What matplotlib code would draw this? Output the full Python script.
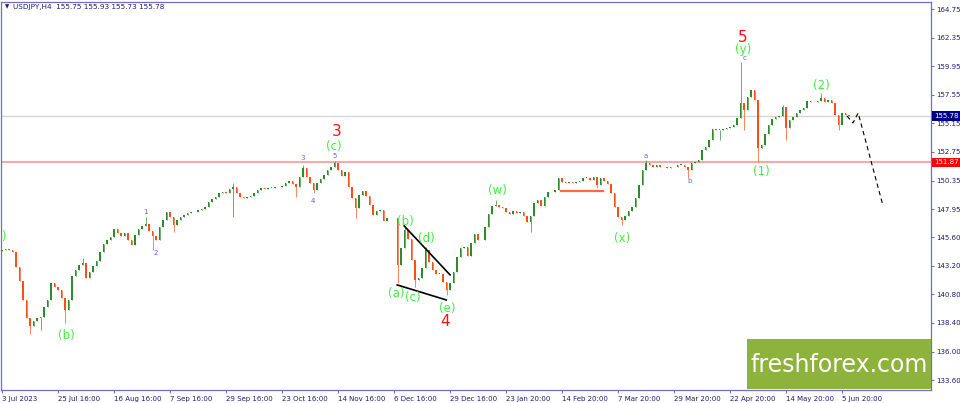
import matplotlib
matplotlib.use("Agg")
import matplotlib.pyplot as plt
from matplotlib.transforms import blended_transform_factory

# daily closes (one value per trading day, 3 Jul 2023 -> 6 Jun 2024)
closes = [
    144.53, 144.61, 144.53, 144.36, 143.10, 141.92, 140.33, 138.82, 138.15, 138.57,
    138.82, 138.90, 139.74, 140.33, 141.76, 141.42, 141.17, 140.50, 139.49, 140.33,
    142.34, 142.85, 143.27, 143.43, 142.17, 142.68, 143.18, 143.60, 144.36, 145.03,
    145.36, 145.62, 146.29, 145.95, 145.70, 145.95, 145.36, 144.94, 145.78, 146.29,
    146.54, 146.71, 146.12, 145.70, 145.36, 146.46, 147.04, 147.71, 147.29, 146.62,
    147.04, 147.29, 147.46, 147.63, 147.71, 147.71, 147.88, 147.96, 148.13, 148.55,
    148.81, 148.97, 149.31, 149.39, 149.31, 149.64, 149.81, 149.31, 148.97, 148.89,
    148.97, 149.06, 149.31, 149.56, 149.73, 149.64, 149.73, 149.73, 149.81, 149.81,
    149.90, 150.15, 150.32, 150.06, 149.81, 150.65, 151.41, 150.65, 150.15, 149.56,
    150.15, 150.48, 150.82, 151.24, 151.49, 151.82, 151.24, 150.73, 151.07, 149.81,
    148.89, 148.05, 149.14, 149.48, 149.06, 148.30, 147.46, 147.80, 147.88, 146.96,
    147.21, 147.21, 147.21, 143.27, 144.69, 146.20, 145.45, 143.69, 142.01, 142.18,
    143.02, 144.53, 143.52, 142.85, 142.51, 142.51, 141.84, 141.17, 141.76, 142.68,
    143.94, 144.69, 144.78, 144.02, 145.11, 145.87, 145.36, 145.36, 146.46, 147.55,
    148.22, 148.30, 148.13, 148.05, 147.71, 147.55, 147.80, 147.63, 147.71, 147.38,
    146.88, 147.38, 148.47, 148.72, 148.22, 148.97, 149.39, 149.39, 149.56, 150.57,
    150.23, 150.15, 150.23, 150.15, 150.23, 150.32, 150.57, 150.57, 150.40, 150.65,
    149.98, 150.57, 150.32, 150.06, 149.31, 148.13, 147.29, 147.04, 147.38, 147.80,
    148.13, 148.89, 149.98, 151.24, 151.82, 151.66, 151.49, 151.66, 151.49, 151.49,
    151.41, 151.49, 151.49, 151.66, 151.66, 151.49, 151.24, 151.82, 151.91, 152.08,
    152.92, 153.17, 153.76, 154.68, 154.60, 154.60, 154.68, 154.76, 154.85, 155.01,
    155.60, 156.86, 156.27, 157.36, 157.95, 157.11, 153.08, 153.34, 154.26, 155.01,
    155.52, 155.69, 155.77, 156.53, 154.76, 155.43, 155.69, 156.02, 156.27, 156.44,
    157.03, 156.94, 156.94, 157.03, 157.28, 156.94, 157.11, 156.86, 155.85, 155.01,
    156.02, 155.85, 155.78,
]
first_open = 144.45

# wick extremes that stick out of the bodies
spike_high = {23: 143.85, 41: 147.29, 66: 150.15, 86: 151.66, 95: 151.99, 115: 146.54,
              121: 144.78, 141: 148.72, 184: 152.08, 211: 160.30, 223: 156.70, 234: 157.70}
spike_low = {8: 137.48, 11: 137.81, 18: 138.40, 43: 144.53, 49: 146.04, 66: 147.29,
             84: 148.97, 89: 149.31, 101: 147.21, 113: 141.76, 118: 141.42, 127: 140.75,
             151: 146.04, 170: 149.70, 177: 146.62, 196: 150.57, 205: 153.76, 212: 154.60,
             216: 151.91, 224: 153.76, 239: 154.60}

date_ticks = [0, 16, 32, 48, 64, 80, 96, 112, 128, 144, 160, 176, 192, 208, 224, 240]
date_labels = ["3 Jul 2023", "25 Jul 16:00", "16 Aug 16:00", "7 Sep 16:00", "29 Sep 16:00",
               "23 Oct 16:00", "14 Nov 16:00", "6 Dec 16:00", "29 Dec 16:00", "23 Jan 20:00",
               "14 Feb 20:00", "7 Mar 20:00", "29 Mar 20:00", "22 Apr 20:00", "14 May 20:00",
               "5 Jun 20:00"]
price_ticks = [133.60, 136.00, 138.40, 140.80, 143.20, 145.60, 147.95, 150.35,
               152.75, 155.15, 157.55, 159.95, 162.35, 164.75]

level_red = 151.87
last_price = 155.78

# contracting triangle of wave 4
tri_low_x, tri_low_y = [112.9, 126.9], [141.59, 140.33]
tri_up_x, tri_up_y = [114.9, 128.0], [146.54, 142.43]
# forecast path
proj_x = [241.4, 243.1, 244.6, 251.7]
proj_y = [155.77, 155.19, 156.02, 148.22]
# small support segment under the Feb range
seg_x, seg_y = [159.7, 171.7], [149.48, 149.48]

# wave labels: (text, day, price, kind)
waves = [
    ("(a)", 1.3, 145.62, "g_r"), ("(b)", 18.3, 137.31, "g"),
    ("1", 41.1, 147.71, "b"), ("2", 44.0, 144.27, "b"),
    ("3", 86.0, 152.25, "b"), ("4", 88.9, 148.64, "b"), ("5", 95.1, 152.41, "b"),
    ("(c)", 94.9, 153.25, "g"), ("3", 95.7, 154.51, "r"),
    ("(b)", 115.1, 146.88, "g"), ("(d)", 121.1, 145.45, "g"), ("(a)", 112.6, 140.83, "g"),
    ("(c)", 117.4, 140.50, "g"), ("(e)", 127.1, 139.62, "g"), ("4", 126.6, 138.55, "r"),
    ("(w)", 141.4, 149.48, "g"), ("(x)", 177.1, 145.45, "g"),
    ("a", 184.0, 152.41, "b"), ("b", 196.3, 150.32, "b"),
    ("5", 211.7, 162.40, "r"), ("(y)", 211.7, 161.35, "g"), ("c", 212.0, 160.62, "b"),
    ("(1)", 216.9, 151.07, "g"), ("(2)", 234.0, 158.29, "g"),
]

UP, DOWN = "#2a8c2a", "#ff4f14"
AXIS = "#6e6ec8"
TXT = "#1c1c78"
GREEN = "#3ef03e"

fig = plt.figure(figsize=(9.6, 4.03), dpi=100)
ax = fig.add_axes([1 / 960, 13 / 403, 930 / 960, 388 / 403])

ax.axhline(level_red, color="#ff8c8c", lw=1.1, zorder=1)
ax.axhline(last_price, color="#d6d6d6", lw=1.0, zorder=1)

opens = [first_open] + closes[:-1]
for i, (o, c) in enumerate(zip(opens, closes)):
    col = UP if c >= o else DOWN
    hi = max(o, c, spike_high.get(i, 0))
    lo = min(o, c, spike_low.get(i, 999))
    ax.vlines(i, lo, hi, color=col, lw=0.7, alpha=0.7, zorder=2)
    ax.bar(i, max(abs(c - o), 0.04), bottom=min(o, c), width=0.5, color=col,
           linewidth=0, zorder=3)

ax.plot(tri_low_x, tri_low_y, color="black", lw=1.2, zorder=4)
ax.plot(tri_up_x, tri_up_y, color="black", lw=1.2, zorder=4)
ax.plot(proj_x, proj_y, color="black", lw=0.8, ls=(0, (4, 3)), zorder=4)
ax.plot(seg_x, seg_y, color="#ff6a3c", lw=1.6, zorder=4)

styles = {"g": dict(color=GREEN, fontsize=8.5), "g_r": dict(color=GREEN, fontsize=8.5),
          "b": dict(color="#6060ff", fontsize=5), "r": dict(color="#ff1010", fontsize=11)}
for txt, x, y, kind in waves:
    ha = "right" if kind == "g_r" else "center"
    ax.text(x, y, txt, ha=ha, va="center", clip_on=True, zorder=5, **styles[kind])

ax.set_xlim(-0.3, 265.4)
ax.set_ylim(132.77, 165.34)

ax.set_xticks(date_ticks)
ax.set_xticklabels(date_labels, ha="left")
ax.yaxis.tick_right()
ax.set_yticks(price_ticks)
ax.set_yticklabels([f"{p:.2f}" for p in price_ticks])
ax.tick_params(axis="both", colors=AXIS, labelcolor=TXT, labelsize=5, length=2.5, width=0.8, pad=1.5)
for s in ax.spines.values():
    s.set_color(AXIS)
    s.set_linewidth(0.9)

# price boxes on the right scale
tr = blended_transform_factory(ax.transAxes, ax.transData)
ax.text(1.003, last_price, "155.78", transform=tr, ha="left", va="center", fontsize=5,
        color="white", clip_on=False, zorder=6,
        bbox=dict(boxstyle="square,pad=0.25", fc="#000080", ec="none"))
ax.text(1.003, level_red, "151.87", transform=tr, ha="left", va="center", fontsize=5,
        color="white", clip_on=False, zorder=6,
        bbox=dict(boxstyle="square,pad=0.25", fc="#ff0000", ec="none"))

fig.text(5 / 960, 1 - 7 / 403, "\u25bc", fontsize=4, color=TXT, va="center")
fig.text(13 / 960, 1 - 7 / 403, "USDJPY,H4  155.75 155.93 155.73 155.78", fontsize=5.2,
         color=TXT, va="center")

# watermark
fig.patches.append(plt.Rectangle((747 / 960, 1 - 389 / 403), 184 / 960, 50 / 403,
                                 transform=fig.transFigure, fc="#8db33c", ec="none", zorder=10))
fig.text(839 / 960, 1 - 365 / 403, "freshforex.com", fontsize=17, color="white",
         ha="center", va="center", zorder=11)

fig.savefig("out.png", dpi=100)
